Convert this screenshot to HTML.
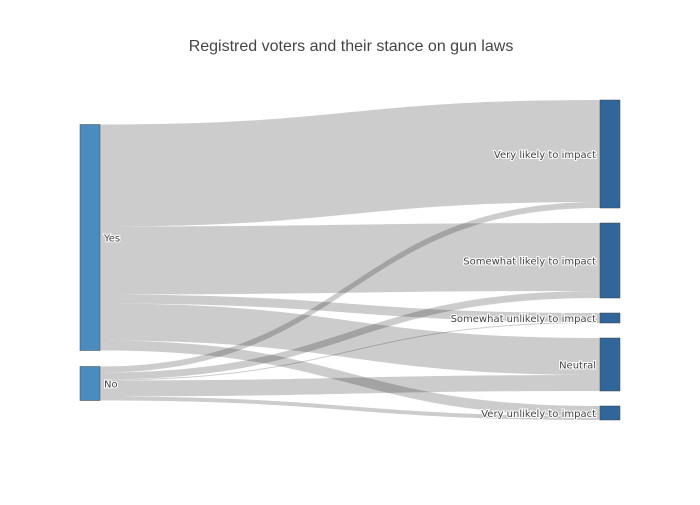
<!DOCTYPE html>
<html><head><meta charset="utf-8"><style>
body{margin:0;background:#fff}
svg{font-family:"Liberation Sans",sans-serif}
</style></head><body>
<svg id="c" width="700" height="500">
<rect width="700" height="500" fill="#fff"/>
<text x="351" y="51" text-anchor="middle" font-size="16" fill="#444">Registred voters and their stance on gun laws</text>
<g id="links"></g><g id="nodes"></g>
</svg>
<script>
const sources = ["Yes", "No"];
const targets = ["Very likely to impact", "Somewhat likely to impact", "Somewhat unlikely to impact", "Neutral", "Very unlikely to impact"];
const yesValues = [102, 68, 9, 37, 10];
const noValues = [6, 7, 1, 16, 4];

const svg = document.getElementById('c');
const NS = 'http://www.w3.org/2000/svg';
const pad = 15, xL = 80, xR = 600, nw = 20;
const flows = [yesValues, noValues];
const srcTot = flows.map(a => a.reduce((s, v) => s + v, 0));
const tgtTot = targets.map((t, i) => flows.reduce((s, a) => s + a[i], 0));
function stack(tots, center, p) {
  const total = tots.reduce((s, v) => s + v, 0) + p * (tots.length - 1);
  let y = center - total / 2; return tots.map(v => { const y0 = y; y += v + p; return y0; });
}
const sy = stack(srcTot, 262.5, 16), ty = stack(tgtTot, 260, pad);
const tOff = ty.slice();
const lg = document.getElementById('links');
flows.forEach((arr, s) => {
  let so = sy[s];
  arr.forEach((v, t) => {
    const a0 = so, a1 = so + v, b0 = tOff[t], b1 = tOff[t] + v;
    so += v; tOff[t] += v;
    const x0 = xL + nw, x1 = xR, xm = (x0 + x1) / 2;
    const p = document.createElementNS(NS, 'path');
    p.setAttribute('d', `M${x0},${a0}C${xm},${a0} ${xm},${b0} ${x1},${b0}L${x1},${b1}C${xm},${b1} ${xm},${a1} ${x0},${a1}Z`);
    p.setAttribute('fill', 'rgba(0,0,0,0.2)');
    
    
    lg.appendChild(p);
  });
});
const ng = document.getElementById('nodes');
function node(x, y, h, color, label, right, name) {
  const r = document.createElementNS(NS, 'rect');
  r.setAttribute('x', x); r.setAttribute('y', y); r.setAttribute('width', nw); r.setAttribute('height', h);
  r.setAttribute('fill', color); r.setAttribute('stroke', '#444'); r.setAttribute('stroke-width', '0.5');
  
  
  ng.appendChild(r);
  const tx = document.createElementNS(NS, 'text');
  tx.setAttribute('x', right ? x - 4 : x + nw + 4); tx.setAttribute('y', y + h / 2 + 4);
  tx.setAttribute('font-size', '10'); tx.setAttribute('fill', '#444');
  tx.setAttribute('font-family', '"DejaVu Sans", sans-serif');
  tx.setAttribute('text-anchor', right ? 'end' : 'start');
  tx.setAttribute('style', 'paint-order:stroke;stroke:#fff;stroke-width:2px');
  tx.textContent = label;
  
  
  ng.appendChild(tx);
}
sources.forEach((s, i) => node(xL, sy[i], srcTot[i], '#4b8bbe', s, false, 'node-' + s.toLowerCase()));
targets.forEach((t, i) => node(xR, ty[i], tgtTot[i], '#30669a', t, true, 'node-target-' + i));
</script>
</body></html>
